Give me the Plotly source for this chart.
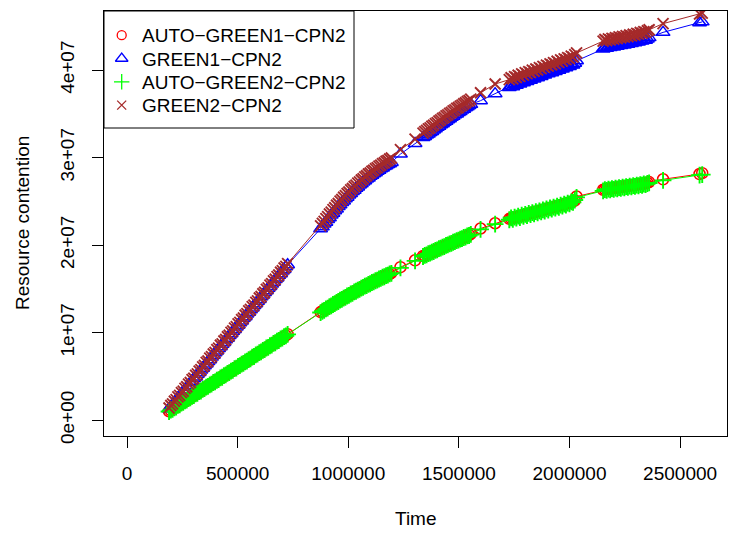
import plotly.graph_objects as go

# Sampling times (shared by the four runs)
TIME = [
    # first busy period
    190000, 198000, 206000, 214000, 222000, 230000, 238000, 246000, 254000, 262000,
    270000, 278000, 286000, 294000, 302000, 310000, 318000, 326000, 334000, 342000,
    350000, 358000, 366000, 374000, 382000, 390000, 398000, 406000, 414000, 422000,
    430000, 438000, 446000, 454000, 462000, 470000, 478000, 486000, 494000, 502000,
    510000, 518000, 526000, 534000, 542000, 550000, 558000, 566000, 574000, 582000,
    590000, 598000, 606000, 614000, 622000, 630000, 638000, 646000, 654000, 662000,
    670000, 678000, 686000, 694000, 702000, 710000, 718000, 726000,
    # second busy period
    875000, 883000, 891000, 899000, 907000, 915000, 923000, 931000, 939000, 947000,
    955000, 963000, 971000, 979000, 987000, 995000, 1003000, 1011000, 1019000, 1027000,
    1035000, 1043000, 1051000, 1059000, 1067000, 1075000, 1083000, 1091000, 1099000,
    1107000, 1115000, 1123000, 1131000, 1139000, 1147000, 1155000, 1163000, 1171000,
    1179000, 1187000, 1195000,
    1236000, 1302000,
    # third busy period
    1338000, 1346000, 1354000, 1362000, 1370000, 1378000, 1386000, 1394000, 1402000,
    1410000, 1418000, 1426000, 1434000, 1442000, 1450000, 1458000, 1466000, 1474000,
    1482000, 1490000, 1498000, 1506000, 1514000, 1522000, 1530000, 1538000, 1546000,
    1554000,
    1598000, 1664000,
    # fourth busy period
    1728000, 1736000, 1744000, 1752000, 1760000, 1768000, 1776000, 1784000, 1792000,
    1800000, 1808000, 1816000, 1824000, 1832000, 1840000, 1848000, 1856000, 1864000,
    1872000, 1880000, 1888000, 1896000, 1904000, 1912000, 1920000, 1928000, 1936000,
    1944000, 1952000, 1960000, 1968000, 1976000, 1984000, 1992000, 2000000, 2008000,
    2016000, 2024000, 2032000,
    # fifth busy period
    2152000, 2160000, 2168000, 2176000, 2184000, 2192000, 2200000, 2208000, 2216000,
    2224000, 2232000, 2240000, 2248000, 2256000, 2264000, 2272000, 2280000, 2288000,
    2296000, 2304000, 2312000, 2320000, 2328000, 2336000, 2344000, 2352000, 2360000,
    2423000, 2588000, 2600000,
]

# Resource contention per run, in millions
AUTO_GREEN1_CPN2 = [
    1.03, 1.12, 1.29, 1.38, 1.55, 1.64, 1.82, 1.90, 2.08, 2.16,
    2.34, 2.42, 2.61, 2.68, 2.87, 2.95, 3.13, 3.21, 3.39, 3.47,
    3.66, 3.73, 3.92, 4.00, 4.18, 4.26, 4.44, 4.52, 4.71, 4.78,
    4.97, 5.05, 5.23, 5.31, 5.49, 5.57, 5.76, 5.83, 6.02, 6.10,
    6.28, 6.36, 6.54, 6.62, 6.81, 6.88, 7.07, 7.15, 7.33, 7.41,
    7.59, 7.67, 7.86, 7.93, 8.12, 8.20, 8.38, 8.46, 8.64, 8.72,
    8.91, 8.98, 9.17, 9.25, 9.43, 9.51, 9.69, 9.83,
    12.35, 12.42, 12.62, 12.70, 12.87, 12.94, 13.12, 13.19, 13.37, 13.44,
    13.61, 13.68, 13.85, 13.92, 14.09, 14.16, 14.33, 14.39, 14.56, 14.62,
    14.79, 14.84, 15.01, 15.07, 15.23, 15.29, 15.45, 15.50, 15.66, 15.71,
    15.87, 15.92, 16.07, 16.12, 16.27, 16.31, 16.46, 16.50, 16.65, 16.69,
    16.84,
    17.48, 18.27,
    18.76, 18.78, 18.95, 18.98, 19.14, 19.17, 19.33, 19.36, 19.52, 19.55,
    19.71, 19.74, 19.90, 19.93, 20.08, 20.11, 20.27, 20.29, 20.45, 20.47,
    20.63, 20.65, 20.81, 20.83, 20.98, 21.01, 21.16, 21.28,
    21.90, 22.50,
    23.00, 23.05, 23.10, 23.16, 23.22, 23.26, 23.33, 23.36, 23.44, 23.46,
    23.55, 23.57, 23.66, 23.68, 23.77, 23.79, 23.88, 23.90, 23.99, 24.01,
    24.10, 24.12, 24.21, 24.23, 24.32, 24.34, 24.43, 24.45, 24.54, 24.56,
    24.65, 24.67, 24.76, 24.78, 24.88, 24.90, 25.00, 25.10, 25.55,
    26.32, 26.36, 26.40, 26.44, 26.46, 26.50, 26.52, 26.56, 26.58, 26.62,
    26.64, 26.68, 26.70, 26.74, 26.76, 26.80, 26.82, 26.86, 26.88, 26.92,
    26.94, 26.98, 27.00, 27.04, 27.06, 27.12, 27.20,
    27.52, 28.12, 28.22,
]

GREEN1_CPN2 = [
    1.30, 1.52, 1.81, 2.01, 2.30, 2.50, 2.79, 2.99, 3.28, 3.48,
    3.78, 3.97, 4.27, 4.46, 4.76, 4.95, 5.25, 5.45, 5.74, 5.94,
    6.23, 6.43, 6.72, 6.92, 7.21, 7.41, 7.71, 7.90, 8.20, 8.39,
    8.69, 8.88, 9.18, 9.37, 9.67, 9.87, 10.16, 10.36, 10.65, 10.85,
    11.14, 11.34, 11.64, 11.83, 12.13, 12.32, 12.62, 12.81, 13.11, 13.30,
    13.60, 13.80, 14.09, 14.29, 14.58, 14.78, 15.07, 15.27, 15.56, 15.76,
    16.06, 16.25, 16.55, 16.74, 17.04, 17.23, 17.53, 17.76,
    21.88, 22.10, 22.40, 22.62, 22.92, 23.14, 23.44, 23.64, 23.93, 24.13,
    24.41, 24.60, 24.87, 25.05, 25.31, 25.48, 25.73, 25.89, 26.13, 26.28,
    26.51, 26.65, 26.87, 27.01, 27.22, 27.35, 27.55, 27.67, 27.86, 27.98,
    28.16, 28.27, 28.44, 28.55, 28.71, 28.81, 28.97, 29.06, 29.21, 29.30,
    29.45,
    30.40, 31.60,
    32.28, 32.40, 32.57, 32.70, 32.87, 32.99, 33.16, 33.28, 33.45, 33.57,
    33.74, 33.86, 34.03, 34.15, 34.32, 34.43, 34.60, 34.71, 34.88, 34.99,
    35.16, 35.26, 35.43, 35.53, 35.70, 35.80, 35.96, 36.08,
    36.50, 37.30,
    38.00, 38.18, 38.10, 38.32, 38.26, 38.48, 38.40, 38.62, 38.54, 38.76,
    38.70, 38.90, 38.84, 39.05, 38.98, 39.20, 39.12, 39.34, 39.27, 39.48,
    39.42, 39.62, 39.56, 39.76, 39.70, 39.90, 39.84, 40.04, 39.98, 40.18,
    40.12, 40.32, 40.26, 40.46, 40.40, 40.60, 40.56, 40.78, 41.05,
    42.40, 42.55, 42.48, 42.62, 42.56, 42.70, 42.64, 42.78, 42.72, 42.86,
    42.80, 42.93, 42.87, 43.00, 42.95, 43.08, 43.03, 43.16, 43.11, 43.25,
    43.20, 43.35, 43.30, 43.45, 43.40, 43.55, 43.70,
    44.30, 45.40, 45.50,
]

AUTO_GREEN2_CPN2 = [
    1.00, 1.16, 1.24, 1.42, 1.50, 1.69, 1.76, 1.95, 2.03, 2.21,
    2.29, 2.47, 2.55, 2.74, 2.81, 3.00, 3.08, 3.26, 3.34, 3.52,
    3.60, 3.79, 3.86, 4.05, 4.13, 4.31, 4.39, 4.57, 4.65, 4.84,
    4.91, 5.10, 5.18, 5.36, 5.44, 5.62, 5.70, 5.89, 5.96, 6.15,
    6.23, 6.41, 6.49, 6.67, 6.75, 6.93, 7.01, 7.20, 7.28, 7.46,
    7.54, 7.72, 7.80, 7.98, 8.06, 8.25, 8.33, 8.51, 8.59, 8.77,
    8.85, 9.03, 9.11, 9.30, 9.38, 9.56, 9.64, 9.81,
    12.30, 12.45, 12.55, 12.72, 12.80, 12.97, 13.06, 13.22, 13.31, 13.47,
    13.56, 13.71, 13.80, 13.95, 14.04, 14.19, 14.27, 14.42, 14.50, 14.65,
    14.73, 14.87, 14.95, 15.09, 15.17, 15.31, 15.38, 15.52, 15.59, 15.73,
    15.80, 15.93, 16.00, 16.13, 16.20, 16.33, 16.39, 16.52, 16.58, 16.71,
    16.78,
    17.40, 18.20,
    18.70, 18.82, 18.89, 19.02, 19.08, 19.21, 19.27, 19.40, 19.46, 19.59,
    19.65, 19.78, 19.84, 19.97, 20.02, 20.15, 20.21, 20.33, 20.39, 20.51,
    20.57, 20.69, 20.75, 20.87, 20.92, 21.05, 21.10, 21.22,
    21.80, 22.40,
    22.90, 23.12, 22.95, 23.20, 23.08, 23.32, 23.15, 23.42, 23.28, 23.52,
    23.38, 23.62, 23.48, 23.72, 23.58, 23.82, 23.68, 23.92, 23.80, 24.02,
    23.90, 24.15, 24.00, 24.25, 24.12, 24.35, 24.22, 24.45, 24.32, 24.58,
    24.45, 24.68, 24.58, 24.80, 24.72, 24.95, 24.88, 25.15, 25.45,
    26.20, 26.35, 26.25, 26.40, 26.30, 26.45, 26.36, 26.50, 26.42, 26.56,
    26.48, 26.62, 26.54, 26.68, 26.60, 26.74, 26.66, 26.80, 26.72, 26.86,
    26.78, 26.92, 26.84, 26.98, 26.92, 27.04, 27.10,
    27.40, 28.00, 28.05,
]

GREEN2_CPN2 = [
    1.40, 1.68, 1.86, 2.17, 2.35, 2.66, 2.84, 3.15, 3.33, 3.64,
    3.83, 4.13, 4.31, 4.63, 4.80, 5.12, 5.29, 5.61, 5.78, 6.10,
    6.27, 6.60, 6.77, 7.09, 7.26, 7.57, 7.75, 8.07, 8.24, 8.56,
    8.73, 9.05, 9.22, 9.54, 9.71, 10.03, 10.20, 10.52, 10.69, 11.01,
    11.18, 11.50, 11.68, 11.99, 12.17, 12.49, 12.66, 12.98, 13.15, 13.47,
    13.64, 13.96, 14.13, 14.45, 14.62, 14.94, 15.11, 15.43, 15.60, 15.92,
    16.10, 16.41, 16.59, 16.90, 17.08, 17.39, 17.57, 17.88,
    22.20, 22.48, 22.72, 23.02, 23.25, 23.55, 23.77, 24.05, 24.27, 24.55,
    24.75, 25.02, 25.21, 25.47, 25.65, 25.90, 26.07, 26.31, 26.47, 26.70,
    26.86, 27.08, 27.23, 27.44, 27.58, 27.79, 27.92, 28.12, 28.24, 28.44,
    28.55, 28.74, 28.85, 29.03, 29.13, 29.31, 29.41, 29.58, 29.67, 29.84,
    29.95,
    30.90, 32.10,
    32.80, 32.97, 33.10, 33.28, 33.40, 33.58, 33.70, 33.88, 34.00, 34.18,
    34.30, 34.47, 34.59, 34.76, 34.88, 35.05, 35.16, 35.33, 35.44, 35.61,
    35.72, 35.88, 35.99, 36.15, 36.26, 36.42, 36.52, 36.68,
    37.40, 38.40,
    38.90, 39.12, 38.98, 39.25, 39.15, 39.40, 39.28, 39.55, 39.42, 39.70,
    39.58, 39.82, 39.72, 39.98, 39.86, 40.12, 40.00, 40.28, 40.15, 40.42,
    40.30, 40.55, 40.45, 40.70, 40.60, 40.85, 40.72, 41.00, 40.88, 41.15,
    41.02, 41.28, 41.18, 41.42, 41.32, 41.58, 41.48, 41.75, 41.95,
    43.30, 43.48, 43.35, 43.55, 43.45, 43.62, 43.52, 43.70, 43.60, 43.78,
    43.68, 43.85, 43.75, 43.92, 43.82, 44.00, 43.90, 44.08, 44.00, 44.18,
    44.10, 44.28, 44.20, 44.38, 44.30, 44.48, 44.60,
    45.30, 46.40, 46.50,
]

LABELS = ["AUTO\u2212GREEN1\u2212CPN2", "GREEN1\u2212CPN2",
          "AUTO\u2212GREEN2\u2212CPN2", "GREEN2\u2212CPN2"]

# name, values, colour, symbol, plot size, key size, stroke width
SERIES = [
    (LABELS[0], AUTO_GREEN1_CPN2, "#FF0000", "circle-open", 11, 9, 1.5),
    (LABELS[1], GREEN1_CPN2, "#0000FF", "triangle-up-open", 12, 11, 1.5),
    (LABELS[2], AUTO_GREEN2_CPN2, "#00FF00", "cross-thin-open", 12, 11, 1.9),
    (LABELS[3], GREEN2_CPN2, "#A52A2A", "x-thin-open", 11, 9, 1.9),
]

for _, vals, *_ in SERIES:
    assert len(vals) == len(TIME), (len(vals), len(TIME))

X_TICKS = [0, 500000, 1000000, 1500000, 2000000, 2500000]
X_TICK_TEXT = ["0", "500000", "1000000", "1500000", "2000000", "2500000"]
Y_TICKS = [0, 1e7, 2e7, 3e7, 4e7]
Y_TICK_TEXT = ["0e+00", "1e+07", "2e+07", "3e+07", "4e+07"]

FONT = "Liberation Sans, Arial, Helvetica, sans-serif"
FS = 19

# page geometry of the plotting region (pixels)
PL, PR, PT, PB = 104, 727, 11, 436

fig = go.Figure()

for name, vals, color, symbol, size, _, sw in SERIES:
    fig.add_trace(go.Scatter(
        x=TIME, y=[v * 1e6 for v in vals],
        mode="lines+markers", name=name, showlegend=False,
        line=dict(color=color, width=1),
        marker=dict(symbol=symbol, size=size, color=color,
                    line=dict(color=color, width=sw)),
    ))

# key in the top-left corner, laid out on a pixel-unit overlay axis
KEY_BOX = (104, 354, 11, 128)
KEY_ROWS = [35.2, 58.5, 81.8, 105.1]
KEY_SYMBOL_X = 121.7
KEY_TEXT_X = 140

annotations = []
for (name, _, color, symbol, _, ksize, _), ry in zip(SERIES, KEY_ROWS):
    fig.add_trace(go.Scatter(
        x=[KEY_SYMBOL_X], y=[ry], xaxis="x2", yaxis="y2",
        mode="markers", showlegend=False, hoverinfo="skip",
        marker=dict(symbol=symbol, size=ksize, color=color,
                    line=dict(color=color, width=1.3)),
    ))
    annotations.append(dict(
        text=name, xref="x2", yref="y2", x=KEY_TEXT_X, y=ry + 0.5,
        xanchor="left", yanchor="middle", showarrow=False,
        font=dict(family=FONT, size=FS, color="black"),
    ))

axis_common = dict(
    showgrid=False, zeroline=False, showline=True, mirror=True,
    linecolor="black", linewidth=1, ticks="outside", ticklen=11,
    tickwidth=1, tickcolor="black", tickfont=dict(family=FONT, size=FS, color="black"),
)

annotations += [
    dict(text="Time", xref="paper", yref="paper", x=0.5, y=-0.195,
         xanchor="center", yanchor="middle", showarrow=False,
         font=dict(family=FONT, size=FS, color="black")),
    dict(text="Resource contention", xref="paper", yref="paper",
         x=-0.1308, y=0.5, textangle=-90, xanchor="center", yanchor="middle",
         showarrow=False, font=dict(family=FONT, size=FS, color="black")),
]

fig.update_layout(
    width=735, height=533,
    margin=dict(l=PL, r=735 - PR, t=PT, b=533 - PB),
    paper_bgcolor="white", plot_bgcolor="white",
    font=dict(family=FONT, size=FS, color="black"),
    showlegend=False,
    xaxis=dict(range=[-104000, 2712000], tickvals=X_TICKS, ticktext=X_TICK_TEXT,
               ticklabelstandoff=9, **axis_common),
    yaxis=dict(range=[-1.8e6, 4.674e7], tickvals=Y_TICKS, ticktext=Y_TICK_TEXT,
               tickangle=-90, ticklabelstandoff=10, **axis_common),
    xaxis2=dict(overlaying="x", range=[PL, PR], visible=False),
    yaxis2=dict(overlaying="y", range=[PB, PT], visible=False),
    shapes=[dict(type="rect", xref="x2", yref="y2",
                 x0=KEY_BOX[0], x1=KEY_BOX[1], y0=KEY_BOX[2], y1=KEY_BOX[3],
                 line=dict(color="black", width=1), fillcolor="rgba(0,0,0,0)",
                 layer="above")],
    annotations=annotations,
)

fig.write_html("out.html")
